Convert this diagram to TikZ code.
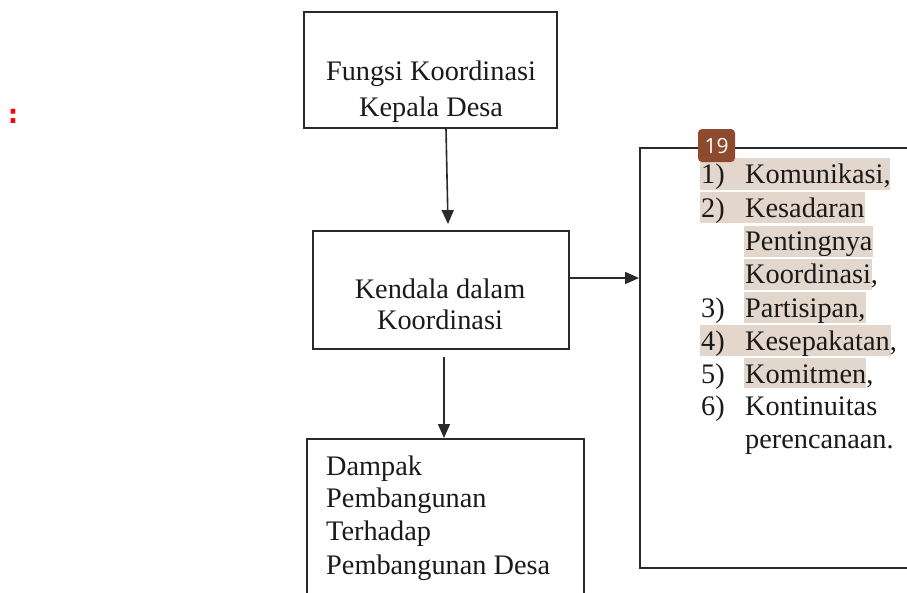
\documentclass[tikz,border=0pt]{standalone}
\usepackage{fontspec}
\setmainfont{Liberation Serif}
\newfontfamily\badgefont{Open Sans}
\newfontfamily\colonfont{DejaVu Sans}
\usetikzlibrary{arrows.meta}
\definecolor{boxline}{HTML}{2A2A2A}
\definecolor{hl}{HTML}{E3D6CC}
\definecolor{badge}{HTML}{8E4A2C}
\definecolor{ink}{HTML}{1C1A19}
\tikzset{
  box/.style={draw=boxline, line width=1.8pt, inner sep=0pt, fill=none},
  txt/.style={inner sep=0pt, anchor=base, font=\fontsize{28.3}{33}\selectfont, text=ink},
  ltxt/.style={txt, anchor=base west},
  hlbox/.style={fill=hl, draw=none},
  arr/.style={draw=boxline, line width=1.6pt, -{Triangle[length=14pt,width=12pt]}}
}
\begin{document}
\begin{tikzpicture}[x=1pt,y=-1pt]
\useasboundingbox (0,0) rectangle (907,592);
\clip (0,0) rectangle (907,592);
% boxes
\node[box, minimum width=253pt, minimum height=116pt] (topbox) at (430.5,70) {};
\node[box, minimum width=256pt, minimum height=118pt] (midbox) at (441,290) {};
\node[box, minimum width=277pt, minimum height=200pt, anchor=north] (botbox) at (445.5,438) {};
\node[box, minimum width=400pt, minimum height=420pt, anchor=north west] (rightbox) at (639,147) {};
% texts in boxes
\node[txt] (t1) at (431,80) {Fungsi Koordinasi};
\node[txt] (t2) at (431,116) {Kepala Desa};
\node[txt] (m1) at (440,298) {Kendala dalam};
\node[txt] (m2) at (440,329) {Koordinasi};
\node[ltxt] (b1) at (326,475) {Dampak};
\node[ltxt] (b2) at (326,507) {Pembangunan};
\node[ltxt] (b3) at (326,540) {Terhadap};
\node[ltxt] (b4) at (326,574) {Pembangunan Desa};
% arrows
\draw[arr] ([xshift=15.5pt]topbox.south) -- ([xshift=7pt,yshift=6pt]midbox.north);
\draw[arr] ([xshift=3pt,yshift=-7pt]midbox.south) -- ([xshift=-1.5pt]botbox.north);
\draw[arr] (midbox.east |- 0,278) -- (rightbox.west |- 0,278);
% highlights
\fill[hlbox] (700,158) rectangle (890,190);
\fill[hlbox] (700,192) rectangle (865,223);
\fill[hlbox] (744,226) rectangle (873,257);
\fill[hlbox] (744,259) rectangle (872,290);
\fill[hlbox] (744,292) rectangle (866,323);
\fill[hlbox] (700,325) rectangle (891,356);
\fill[hlbox] (744,358) rectangle (866,388);
% list
\node[ltxt] (n1) at (701,183) {1)};
\node[ltxt] (l1) at (745,183) {Komunikasi,};
\node[ltxt] (n2) at (701,217) {2)};
\node[ltxt] (l2) at (745,217) {Kesadaran};
\node[ltxt] (l2b) at (745,250) {Pentingnya};
\node[ltxt] (l2c) at (745,283) {Koordinasi,};
\node[ltxt] (n3) at (701,317) {3)};
\node[ltxt] (l3) at (745,317) {Partisipan,};
\node[ltxt] (n4) at (701,350) {4)};
\node[ltxt] (l4) at (745,350) {Kesepakatan,};
\node[ltxt] (n5) at (701,383) {5)};
\node[ltxt] (l5) at (745,383) {Komitmen,};
\node[ltxt] (n6) at (701,415) {6)};
\node[ltxt] (l6) at (745,415) {Kontinuitas};
\node[ltxt] (l6b) at (745,448) {perencanaan.};
% badge
\node[fill=badge, rounded corners=4pt, minimum width=37pt, minimum height=33pt, inner sep=0pt, text=white, font=\badgefont\fontsize{21}{21}\selectfont] (badge19) at (716.5,145.5) {19};
% red colon
\node[inner sep=0pt, anchor=base, text=red, font=\colonfont\bfseries\fontsize{26}{26}\selectfont] (colon) at (13,123) {:};
\end{tikzpicture}
\end{document}
